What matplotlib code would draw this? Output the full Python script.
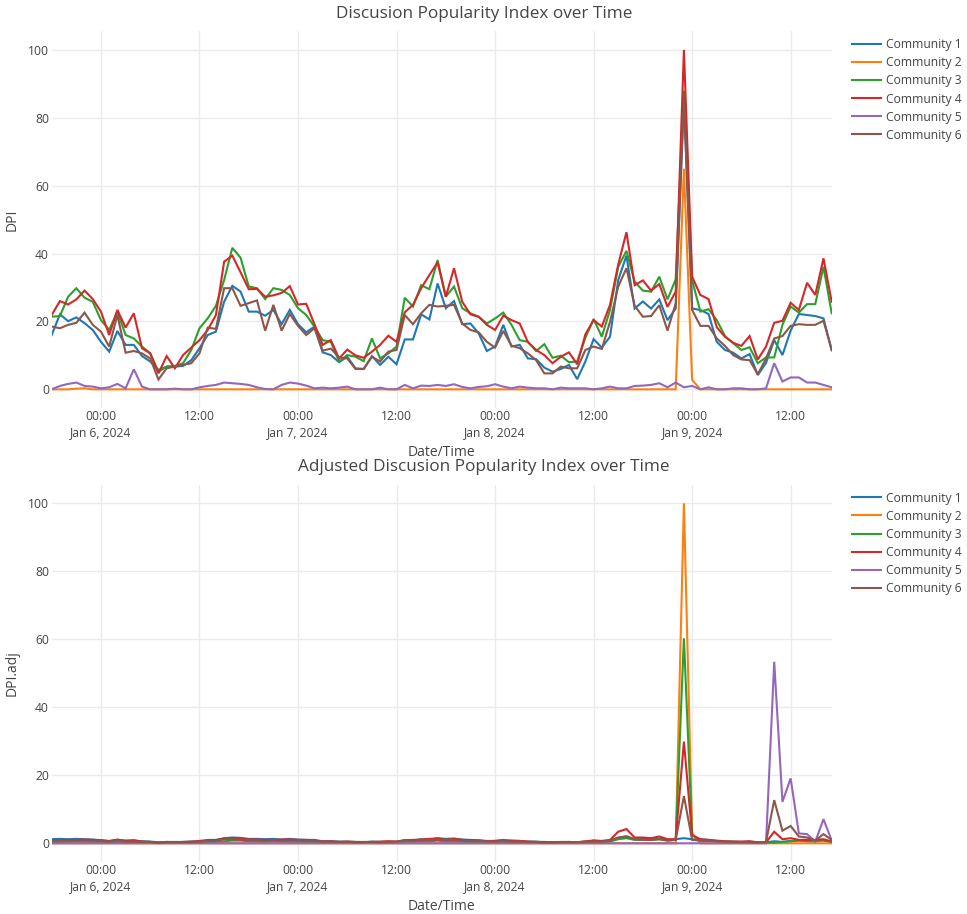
import matplotlib
matplotlib.use('Agg')
import matplotlib.pyplot as plt
import pandas as pd

plt.rcParams['font.family'] = ['Open Sans', 'DejaVu Sans']

# hourly timestamps, Jan 5 18:00 .. Jan 9 17:00
times = pd.date_range('2024-01-05 18:00', periods=96, freq='h')

names = ['Community 1', 'Community 2', 'Community 3', 'Community 4', 'Community 5', 'Community 6']
colors = ['#1f77b4', '#ff7f0e', '#2ca02c', '#d62728', '#9467bd', '#8c564b']

# ---- DPI ----
dpi_c1 = [16.0, 22.1, 20.1, 21.2, 19.5, 17.5, 14.0, 11.1, 17.2, 13.1, 13.1, 9.8,
          8.2, 5.7, 6.7, 6.7, 6.9, 8.6, 12.1, 16.0, 17.0, 25.8, 30.5, 28.8,
          22.9, 22.9, 21.7, 23.4, 19.2, 23.4, 19.2, 16.8, 18.5, 10.9, 10.1, 8.0,
          9.6, 6.2, 6.0, 9.8, 7.2, 9.6, 7.4, 14.7, 14.7, 22.1, 20.6, 31.2,
          23.9, 26.0, 19.2, 19.4, 16.5, 11.3, 12.6, 19.0, 12.6, 13.1, 9.1, 8.9,
          6.4, 5.2, 6.0, 7.2, 3.0, 8.2, 14.8, 12.3, 15.5, 32.2, 39.4, 23.8,
          25.9, 23.8, 26.5, 20.4, 23.8, 85.0, 23.8, 23.4, 22.2, 14.0, 11.6, 10.8,
          9.1, 10.4, 4.2, 7.8, 14.5, 10.1, 17.3, 22.2, 21.9, 21.6, 20.9, 11.5]
dpi_c2 = [0, 0, 0, 0.2, 0.3, 0, 0, 0, 0, 0, 0, 0,
          0, 0, 0, 0, 0, 0, 0, 0, 0, 0, 0, 0,
          0, 0, 0, 0, 0, 0, 0, 0, 0, 0, 0, 0,
          0, 0, 0, 0, 0, 0, 0, 0, 0, 0, 0, 0,
          0, 0, 0, 0, 0, 0, 0, 0, 0, 0, 0, 0,
          0, 0, 0, 0, 0, 0, 0, 0, 0, 0, 0, 0,
          0, 0, 0, 0, 0, 65.0, 2.8, 0, 0, 0, 0, 0,
          0, 0, 0, 0, 0, 0, 0, 0, 0, 0, 0, 0]
dpi_c3 = [21.4, 21.6, 27.3, 29.8, 27.0, 25.8, 20.4, 17.5, 22.9, 16.0, 15.0, 12.6,
          10.6, 5.2, 6.7, 6.9, 7.7, 11.6, 18.0, 20.9, 24.6, 32.2, 41.7, 38.8,
          30.3, 29.8, 26.6, 29.8, 29.3, 27.8, 23.9, 21.9, 18.5, 14.5, 14.0, 8.2,
          10.1, 9.6, 8.3, 15.0, 9.1, 10.6, 12.6, 27.0, 24.4, 30.7, 29.5, 38.1,
          27.3, 30.3, 23.9, 22.4, 21.4, 19.4, 20.9, 22.6, 19.0, 14.5, 14.0, 11.3,
          13.3, 9.3, 9.9, 8.0, 8.2, 15.2, 20.7, 15.5, 23.4, 36.1, 40.8, 31.7,
          29.1, 28.8, 33.2, 26.5, 32.4, 88.0, 32.2, 22.9, 23.6, 20.4, 15.7, 13.6,
          11.6, 12.4, 7.7, 9.4, 9.4, 19.0, 24.4, 22.6, 25.1, 25.1, 36.1, 22.4]
dpi_c4 = [21.9, 26.0, 25.0, 26.5, 29.1, 26.6, 22.9, 16.0, 23.4, 18.2, 22.4, 12.1,
          10.6, 4.7, 9.8, 6.2, 10.1, 12.3, 14.5, 17.5, 21.9, 37.6, 39.4, 34.5,
          29.5, 29.6, 27.3, 27.7, 28.4, 30.4, 25.0, 25.2, 19.2, 13.1, 14.5, 9.1,
          11.7, 10.0, 9.3, 11.1, 13.1, 15.8, 14.0, 22.7, 24.9, 29.8, 33.7, 37.4,
          27.3, 35.7, 25.8, 22.1, 21.4, 19.0, 17.5, 21.7, 20.4, 19.4, 13.9, 11.6,
          10.1, 7.7, 9.6, 10.9, 7.4, 16.2, 20.4, 18.5, 24.9, 36.8, 46.3, 30.7,
          32.1, 29.1, 31.0, 24.3, 28.8, 100.0, 33.2, 27.8, 26.6, 18.3, 15.5, 13.7,
          12.8, 15.7, 8.8, 12.6, 19.6, 20.2, 25.5, 23.4, 31.4, 27.8, 38.6, 25.8]
dpi_c5 = [0.0, 1.0, 1.6, 2.0, 1.0, 0.8, 0.3, 0.6, 1.6, 0.3, 5.9, 0.8,
          0.0, 0.0, 0.0, 0.2, 0.0, 0.0, 0.6, 1.0, 1.3, 2.0, 1.8, 1.6,
          1.3, 0.6, 0.1, 0.0, 1.3, 2.0, 1.7, 1.1, 0.3, 0.5, 0.3, 0.5,
          0.8, 0.0, 0.0, 0.0, 0.5, 0.0, 0.0, 1.3, 0.3, 1.1, 1.0, 1.3,
          1.0, 1.5, 0.7, 0.3, 0.7, 0.9, 1.5, 0.8, 0.3, 0.8, 0.5, 0.3,
          0.3, 0.0, 0.5, 0.3, 0.3, 0.3, 0.0, 0.3, 0.8, 0.3, 0.3, 1.0,
          1.1, 1.3, 1.8, 0.6, 2.0, 0.6, 1.0, 0.0, 0.6, 0.0, 0.0, 0.3,
          0.3, 0.0, 0.0, 0.3, 7.7, 2.3, 3.5, 3.5, 2.0, 2.0, 1.3, 0.6]
dpi_c6 = [18.5, 18.0, 19.0, 19.6, 22.6, 19.0, 17.0, 12.6, 21.9, 10.8, 11.3, 10.6,
          9.1, 2.9, 6.2, 6.7, 7.2, 7.7, 10.6, 18.2, 17.8, 29.8, 29.8, 24.6,
          25.4, 26.2, 17.3, 24.9, 17.3, 22.2, 18.7, 16.0, 18.0, 11.4, 12.0, 9.4,
          9.1, 6.0, 6.0, 9.6, 8.2, 11.1, 11.6, 21.9, 19.2, 22.4, 24.9, 24.4,
          24.6, 24.9, 19.4, 17.5, 16.8, 14.0, 12.3, 17.2, 12.9, 12.1, 10.6, 8.6,
          4.7, 4.7, 6.7, 6.2, 6.2, 11.6, 12.6, 11.9, 19.9, 30.3, 35.7, 24.6,
          21.4, 21.6, 24.8, 17.3, 25.3, 86.0, 23.4, 18.7, 18.7, 15.0, 12.8, 10.1,
          8.8, 8.6, 4.4, 9.1, 15.0, 15.7, 18.7, 19.2, 19.0, 19.0, 20.2, 11.6]

# ---- DPI.adj ----
adj_c1 = [1.2, 1.3, 1.2, 1.3, 1.2, 1.1, 0.9, 0.7, 1.0, 0.8, 0.8, 0.6,
          0.5, 0.3, 0.4, 0.4, 0.4, 0.5, 0.7, 1.0, 1.0, 1.5, 1.7, 1.6,
          1.3, 1.3, 1.2, 1.3, 1.1, 1.3, 1.1, 1.0, 1.0, 0.6, 0.6, 0.5,
          0.5, 0.4, 0.3, 0.5, 0.4, 0.5, 0.4, 0.8, 0.8, 1.2, 1.1, 1.5,
          1.3, 1.4, 1.1, 1.0, 0.9, 0.6, 0.7, 1.0, 0.7, 0.7, 0.5, 0.5,
          0.3, 0.3, 0.3, 0.4, 0.2, 0.4, 0.8, 0.6, 0.8, 1.6, 1.9, 1.2,
          1.3, 1.2, 1.3, 1.0, 1.2, 1.5, 1.2, 1.1, 1.0, 0.6, 0.5, 0.5,
          0.4, 0.5, 0.2, 0.3, 0.6, 0.4, 0.7, 0.9, 0.9, 0.9, 0.8, 0.4]
adj_c2 = [0, 0, 0, 0, 0, 0, 0, 0, 0, 0, 0, 0,
          0, 0, 0, 0, 0, 0, 0, 0, 0, 0, 0, 0,
          0, 0, 0, 0, 0, 0, 0, 0, 0, 0, 0, 0,
          0, 0, 0, 0, 0, 0, 0, 0, 0, 0, 0, 0,
          0, 0, 0, 0, 0, 0, 0, 0, 0, 0, 0, 0,
          0, 0, 0, 0, 0, 0, 0, 0, 0, 0, 0, 0,
          0, 0, 0, 0, 0, 100.0, 3.0, 0, 0, 0, 0, 0,
          0, 0, 0, 0, 0, 0, 0, 0, 0, 0, 0, 0]
adj_c3 = [0.4, 0.4, 0.5, 0.6, 0.5, 0.5, 0.4, 0.3, 0.4, 0.3, 0.3, 0.2,
          0.2, 0.1, 0.1, 0.1, 0.2, 0.2, 0.3, 0.4, 0.5, 0.6, 0.8, 0.8,
          0.6, 0.6, 0.5, 0.6, 0.6, 0.5, 0.5, 0.4, 0.4, 0.3, 0.3, 0.2,
          0.2, 0.2, 0.2, 0.3, 0.2, 0.2, 0.3, 0.5, 0.5, 0.6, 0.6, 0.8,
          0.5, 0.6, 0.5, 0.4, 0.4, 0.4, 0.4, 0.4, 0.4, 0.3, 0.3, 0.2,
          0.3, 0.2, 0.2, 0.2, 0.2, 0.3, 0.4, 0.3, 0.5, 1.2, 1.5, 1.0,
          1.0, 1.0, 1.2, 0.8, 1.0, 60.3, 2.5, 0.7, 0.7, 0.6, 0.4, 0.4,
          0.3, 0.3, 0.2, 0.2, 0.2, 0.4, 0.6, 0.8, 0.6, 0.6, 0.9, 0.5]
adj_c4 = [0.9, 1.0, 1.0, 1.0, 1.1, 1.0, 0.9, 0.6, 1.1, 0.7, 0.9, 0.5,
          0.4, 0.2, 0.4, 0.2, 0.4, 0.5, 0.6, 0.7, 0.9, 1.4, 1.5, 1.3,
          1.1, 1.1, 1.0, 1.0, 1.1, 1.1, 1.0, 1.0, 0.8, 0.5, 0.6, 0.4,
          0.5, 0.4, 0.4, 0.4, 0.5, 0.6, 0.5, 0.9, 1.0, 1.1, 1.3, 1.4,
          1.0, 1.3, 1.0, 0.9, 0.8, 0.7, 0.7, 0.8, 0.8, 0.7, 0.5, 0.4,
          0.4, 0.3, 0.4, 0.4, 0.3, 0.6, 0.8, 0.7, 1.0, 3.4, 4.2, 1.7,
          1.7, 1.5, 2.0, 1.2, 1.2, 29.9, 2.4, 1.2, 1.0, 0.8, 0.6, 0.5,
          0.5, 0.6, 0.3, 0.3, 3.4, 1.2, 1.5, 1.0, 1.0, 1.0, 1.2, 0.5]
adj_c5 = [0, 0, 0, 0, 0, 0, 0, 0, 0, 0, 0, 0,
          0, 0, 0, 0, 0, 0, 0, 0, 0, 0, 0, 0,
          0, 0, 0, 0, 0, 0, 0, 0, 0, 0, 0, 0,
          0, 0, 0, 0, 0, 0, 0, 0, 0, 0, 0, 0,
          0, 0, 0, 0, 0, 0, 0, 0, 0, 0, 0, 0,
          0, 0, 0, 0, 0, 0, 0, 0, 0, 0, 0, 0,
          0, 0, 0, 0, 0, 0, 0, 0, 0, 0, 0, 0,
          0, 0, 0, 0, 53.4, 12.2, 19.1, 2.9, 2.7, 0.5, 7.1, 0.8]
adj_c6 = [0.8, 0.8, 0.8, 0.8, 0.9, 0.8, 0.7, 0.5, 0.9, 0.5, 0.5, 0.4,
          0.4, 0.1, 0.3, 0.3, 0.3, 0.3, 0.4, 0.7, 0.7, 1.2, 1.2, 1.0,
          1.0, 1.0, 0.7, 1.0, 0.7, 0.9, 0.8, 0.7, 0.7, 0.5, 0.5, 0.4,
          0.4, 0.3, 0.3, 0.4, 0.3, 0.4, 0.5, 0.9, 0.8, 0.9, 1.0, 1.0,
          1.0, 1.0, 0.8, 0.7, 0.7, 0.6, 0.5, 0.7, 0.5, 0.5, 0.4, 0.4,
          0.2, 0.2, 0.3, 0.3, 0.3, 0.5, 0.5, 0.5, 0.8, 1.7, 2.1, 1.2,
          1.0, 1.0, 1.2, 0.8, 1.0, 13.9, 1.0, 0.8, 0.8, 0.6, 0.5, 0.4,
          0.4, 0.3, 0.2, 0.4, 12.7, 3.7, 5.1, 2.0, 1.7, 0.8, 2.7, 1.0]

dpi_all = [dpi_c1, dpi_c2, dpi_c3, dpi_c4, dpi_c5, dpi_c6]
adj_all = [adj_c1, adj_c2, adj_c3, adj_c4, adj_c5, adj_c6]

tick_times = pd.date_range('2024-01-06 00:00', '2024-01-09 12:00', freq='12h')
tick_labels = []
for t in tick_times:
    if t.hour == 0:
        tick_labels.append(t.strftime('%H:%M') + '\n' + t.strftime('%b ') + str(t.day) + t.strftime(', %Y'))
    else:
        tick_labels.append(t.strftime('%H:%M'))

txt = '#444444'
grid = '#ebebeb'
W, H = 967, 914

fig = plt.figure(figsize=(W / 100, H / 100), dpi=100)


def panel(top_px, bot_px, series, title, ylab, title_y, xlab_y):
    ax = fig.add_axes([51.7 / W, 1 - bot_px / H, 780 / W, (bot_px - top_px) / H])
    for vals, name, c in zip(series, names, colors):
        ax.plot(times, vals, color=c, lw=1.5, label=name, solid_joinstyle='miter')
    ax.set_xlim(times[0], times[-1])
    ax.set_ylim(-5.5, 105.5)
    ax.set_yticks([0, 20, 40, 60, 80, 100])
    ax.set_xticks(tick_times)
    ax.set_xticklabels(tick_labels, linespacing=1.3)
    ax.grid(True, color=grid, lw=1)
    ax.set_axisbelow(True)
    for s in ax.spines.values():
        s.set_visible(False)
    ax.tick_params(length=0, labelsize=8.7, colors=txt)
    ax.tick_params(axis='x', pad=1.5)
    ax.tick_params(axis='y', pad=2)
    fig.text(484 / W, 1 - title_y / H, title, ha='center', va='center', fontsize=12.3, color=txt)
    fig.text(441 / W, 1 - xlab_y / H, 'Date/Time', ha='center', va='center', fontsize=10, color=txt)
    fig.text(12 / W, 1 - (top_px + bot_px) / 2 / H, ylab, ha='center', va='center',
             rotation=90, fontsize=10, color=txt)
    ax.legend(loc='upper left', bbox_to_anchor=(852 / W, 1 - (top_px + 7) / H),
              bbox_transform=fig.transFigure, frameon=False, fontsize=8.7,
              handlelength=2.4, handletextpad=0.45, labelspacing=0.42,
              borderaxespad=0, borderpad=0, labelcolor=txt)
    return ax


panel(31.3, 408.0, dpi_all, 'Discusion Popularity Index over Time', 'DPI', 14, 452)
panel(484.6, 862.0, adj_all, 'Adjusted Discusion Popularity Index over Time', 'DPI.adj', 467, 906)

fig.savefig('out.png', dpi=100)
